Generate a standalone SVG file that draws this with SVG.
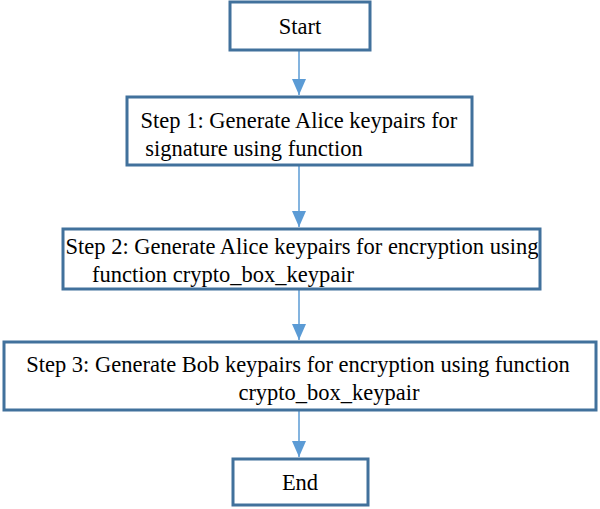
<svg xmlns="http://www.w3.org/2000/svg" width="600" height="509" viewBox="0 0 600 509">
<style>
.b{fill:#fff;stroke:#41719C;stroke-width:3}
.t{font-family:'Liberation Serif','DejaVu Serif',serif;font-size:22.5px;fill:#000;text-anchor:middle}
.c{stroke:#5B9BD5;stroke-width:1.5;fill:none}
</style>
<defs><marker id="a" markerWidth="14" markerHeight="16" refX="7" refY="16" orient="0" markerUnits="userSpaceOnUse"><path d="M0,0L14,0L7,16z" fill="#5B9BD5"/></marker></defs>
<rect width="600" height="509" fill="#fff"/>
<g id="connectors">
<line class="c" x1="299" y1="51" x2="299" y2="95" marker-end="url(#a)"/>
<line class="c" x1="299" y1="166" x2="299" y2="227" marker-end="url(#a)"/>
<line class="c" x1="299" y1="290" x2="299" y2="340" marker-end="url(#a)"/>
<line class="c" x1="299" y1="411" x2="299" y2="457" marker-end="url(#a)"/>
</g>
<g id="start"><rect class="b" x="230" y="2" width="140" height="48"/><text class="t" x="300" y="34">Start</text></g>
<g id="step1"><rect class="b" x="127" y="97" width="345" height="68"/><text class="t" x="299" y="128">Step 1: Generate Alice keypairs for</text><text class="t" x="254" y="156">signature using function</text></g>
<g id="step2"><rect class="b" x="63" y="229" width="477" height="60"/><text class="t" x="302" y="254">Step 2: Generate Alice keypairs for encryption using</text><text class="t" x="223" y="282">function crypto_box_keypair</text></g>
<g id="step3"><rect class="b" x="4" y="342" width="592" height="68"/><text class="t" x="298" y="372">Step 3: Generate Bob keypairs for encryption using function</text><text class="t" x="329" y="400">crypto_box_keypair</text></g>
<g id="end"><rect class="b" x="233" y="459" width="135" height="46"/><text class="t" x="300" y="490">End</text></g>
</svg>
